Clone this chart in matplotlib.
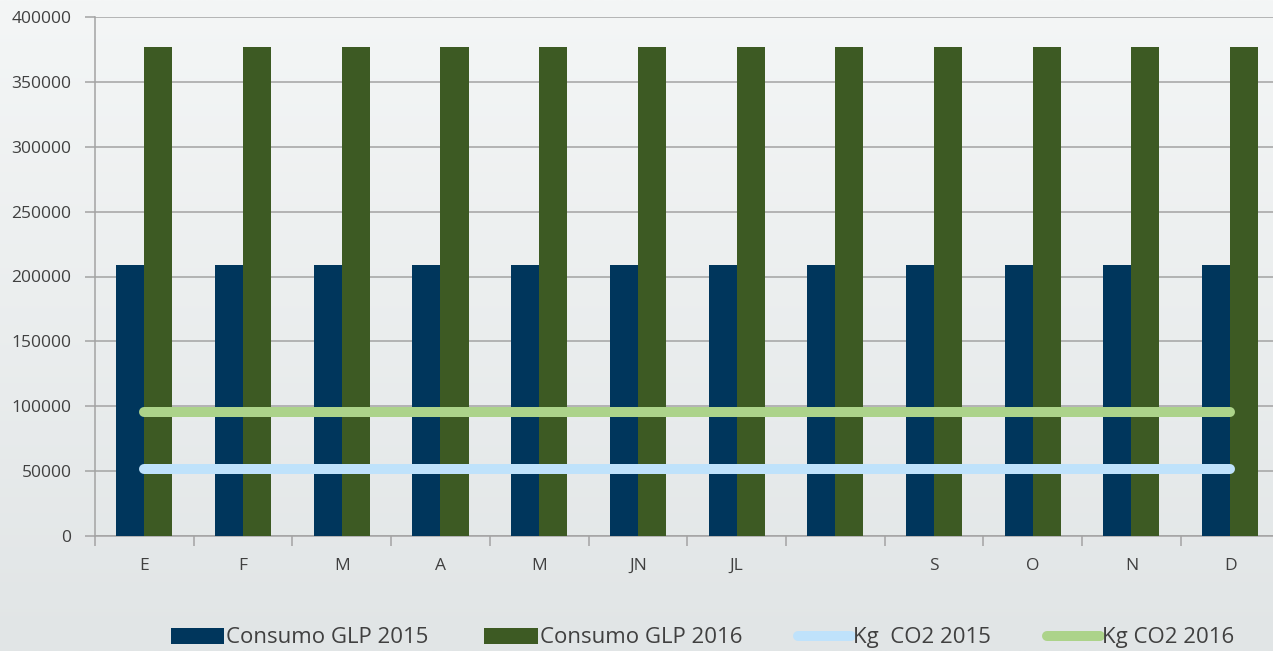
import numpy as np
import matplotlib.pyplot as plt
from matplotlib.patches import Patch
from matplotlib.lines import Line2D

meses = ['E', 'F', 'M', 'A', 'M', 'JN', 'JL', '', 'S', 'O', 'N', 'D']
glp_2015 = [209000] * 12
glp_2016 = [377000] * 12
co2_2015 = [51600] * 12
co2_2016 = [95600] * 12

plt.rcParams['font.family'] = ['Open Sans', 'DejaVu Sans']

fig = plt.figure(figsize=(12.73, 6.51), dpi=100)

# background gradient
bg = fig.add_axes([0, 0, 1, 1], zorder=-10)
grad = np.linspace(0, 1, 256).reshape(-1, 1)
top_c = np.array([244, 246, 246]) / 255
bot_c = np.array([225, 229, 230]) / 255
img = top_c + (bot_c - top_c) * grad[..., None]
bg.imshow(np.repeat(img, 2, axis=1), aspect='auto', extent=[0, 1, 0, 1])
bg.axis('off')

ax = fig.add_axes([95 / 1273, 115 / 651, 1184.5 / 1273, 519 / 651])
ax.set_facecolor('none')

x = np.arange(len(meses))
w = 0.284
ax.bar(x - w / 2, glp_2015, w, color='#00365c', zorder=3)
ax.bar(x + w / 2, glp_2016, w, color='#3d5a23', zorder=3)
ax.plot(x, co2_2015, color='#bfe2fb', lw=7.2, solid_capstyle='round', zorder=4)
ax.plot(x, co2_2016, color='#acd38a', lw=7.2, solid_capstyle='round', zorder=4)

ax.set_xlim(-0.5, len(meses) - 0.5)
ax.set_ylim(0, 400000)
ax.set_yticks(np.arange(0, 400001, 50000))
ax.set_yticklabels([str(v) for v in range(0, 400001, 50000)])
ax.yaxis.grid(True, color='#a3a3a3', lw=1.1)
ax.set_axisbelow(True)

ax.set_xticks(x)
ax.set_xticklabels(meses)
ax.set_xticks(np.arange(-0.5, len(meses)), minor=True)
ax.tick_params(axis='x', which='major', length=0, pad=16, labelsize=12.5, labelcolor='#404040')
ax.tick_params(axis='x', which='minor', length=7, color='#a3a3a3', width=1.1)
ax.tick_params(axis='y', length=7, color='#a3a3a3', width=1.1, pad=10, labelsize=12.5, labelcolor='#404040')

for s in ['top', 'right']:
    ax.spines[s].set_visible(False)
for s in ['left', 'bottom']:
    ax.spines[s].set_color('#a3a3a3')
    ax.spines[s].set_linewidth(1.1)

handles = [
    Patch(facecolor='#00365c'),
    Patch(facecolor='#3d5a23'),
    Line2D([0], [0], color='#bfe2fb', lw=7.2, solid_capstyle='round'),
    Line2D([0], [0], color='#acd38a', lw=7.2, solid_capstyle='round'),
]
labels = ['Consumo GLP 2015', 'Consumo GLP 2016', 'Kg  CO2 2015', 'Kg CO2 2016']
fig.legend(handles, labels, loc='center', bbox_to_anchor=(0.552, 0.02), ncol=4,
           frameon=False, fontsize=16, handlelength=2.4, handleheight=0.75,
           handletextpad=0.1, columnspacing=2.5, labelcolor='#404040')

fig.savefig('out.png', dpi=100)
